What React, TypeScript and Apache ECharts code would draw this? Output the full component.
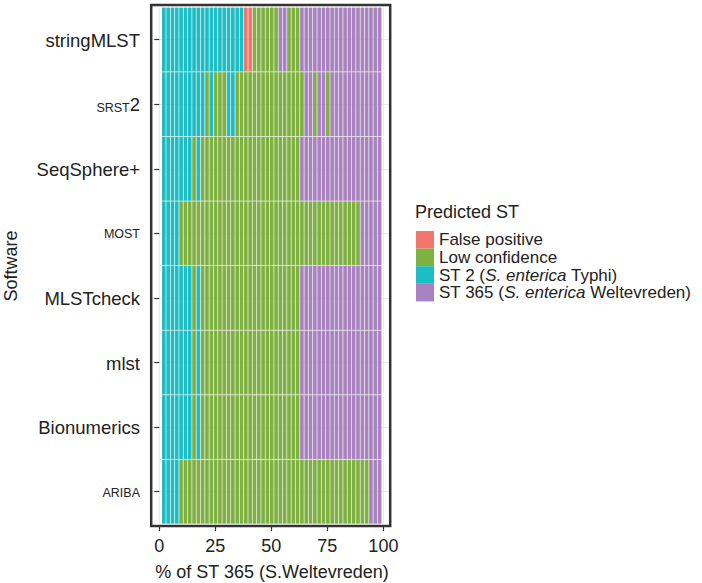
import React, { useEffect, useRef } from "react";
import * as echarts from "echarts";

// Software rows (top to bottom)
const ROWS = ["stringMLST", "SRST2", "SeqSphere+", "MOST", "MLSTcheck", "mlst", "Bionumerics", "ARIBA"];

// Predicted ST categories
const CATEGORIES = [
  "False positive",
  "Low confidence",
  "ST 2 (S. enterica Typhi)",
  "ST 365 (S. enterica Weltevreden)",
];
const CAT_COLORS = ["#F0766E", "#7FB042", "#1DBDC4", "#A883BF"];

// Runs per software: [category index, number of samples]
const FP = 0, LC = 1, T2 = 2, W365 = 3;
const runsStringMLST = [[T2, 19], [FP, 2], [LC, 6], [W365, 2], [LC, 3], [W365, 19]];
const runsSRST2 = [[T2, 10], [LC, 1], [T2, 1], [LC, 3], [T2, 2], [LC, 16], [W365, 2], [LC, 1], [W365, 2], [LC, 1], [W365, 12]];
const runsSeqSphere = [[T2, 7], [LC, 1], [T2, 1], [LC, 23], [W365, 19]];
const runsMOST = [[T2, 4], [LC, 42], [W365, 5]];
const runsMLSTcheck = [[T2, 7], [LC, 1], [T2, 1], [LC, 23], [W365, 19]];
const runsMlst = [[T2, 7], [LC, 1], [T2, 1], [LC, 23], [W365, 19]];
const runsBionumerics = [[T2, 7], [LC, 1], [T2, 1], [LC, 23], [W365, 19]];
const runsARIBA = [[T2, 4], [LC, 44], [W365, 3]];
const ROW_RUNS = [runsStringMLST, runsSRST2, runsSeqSphere, runsMOST, runsMLSTcheck, runsMlst, runsBionumerics, runsARIBA];

// Percent axis
const X_TICKS = [0, 25, 50, 75, 100];
const BAR_START = 1.07; // % where the first sample starts
const N_SAMPLES = 51;
const SAMPLE_PCT = 98.2 / N_SAMPLES; // % width of one sample

const FONT = "'Liberation Sans', Arial, Helvetica, sans-serif";
const TXT = "#222";

export default function App() {
  const ref = useRef<HTMLDivElement>(null);
  useEffect(() => {
    if (!ref.current) return;
    const chart = echarts.init(ref.current, undefined, { renderer: "svg" });

    const sampleCats: number[][] = ROW_RUNS.map((runs) => {
      const arr: number[] = [];
      runs.forEach(([c, n]) => {
        for (let k = 0; k < n; k++) arr.push(c);
      });
      return arr;
    });

    const series: any[] = [];
    series.push({
      type: "bar",
      stack: "all",
      barWidth: "100%",
      silent: true,
      data: ROWS.map(() => BAR_START),
      itemStyle: { color: "rgba(0,0,0,0)" },
    });
    for (let j = 0; j < N_SAMPLES; j++) {
      series.push({
        type: "bar",
        stack: "all",
        barWidth: "100%",
        silent: true,
        data: sampleCats.map((cats) => ({
          value: SAMPLE_PCT,
          itemStyle: { color: CAT_COLORS[cats[j]] },
        })),
        itemStyle: { borderColor: "rgba(255,255,255,0.1)", borderWidth: 0.6 },
      });
    }
    CATEGORIES.forEach((name, i) => {
      series.push({
        type: "line",
        name,
        data: [],
        color: CAT_COLORS[i],
        itemStyle: { color: CAT_COLORS[i] },
        lineStyle: { color: CAT_COLORS[i] },
      });
    });

    const LEG_FS = 17;
    const LEG_LH = 17.6;
    const legendRich = {
      n: { fontSize: LEG_FS, fontFamily: FONT, color: TXT, lineHeight: LEG_LH },
      i: { fontSize: LEG_FS, fontFamily: FONT, color: TXT, fontStyle: "italic", lineHeight: LEG_LH },
    };

    chart.setOption({
      animation: false,
      grid: { left: 151, top: 7.3, width: 240, height: 516.7, containLabel: false },
      xAxis: {
        type: "value",
        min: -3.7,
        max: 103.4,
        offset: 3,
        axisLine: { show: false },
        axisTick: { show: true, length: 4, customValues: X_TICKS, lineStyle: { color: "#333", width: 1.2 } },
        axisLabel: { customValues: X_TICKS, fontSize: 18, color: TXT, fontFamily: FONT, margin: 10 },
        splitLine: { show: true, lineStyle: { color: "#ebebeb", width: 1 } },
        minorSplitLine: { show: false },
      },
      yAxis: {
        type: "category",
        inverse: true,
        data: ROWS,
        axisLine: { show: false },
        axisTick: { show: true, alignWithLabel: true, length: 5, lineStyle: { color: "#333", width: 1.2 } },
        axisLabel: {
          margin: 11,
          formatter: (v: string) => {
            if (v === "SRST2") return "{s|SRST}{b|2}";
            if (v === "MOST" || v === "ARIBA") return "{s|" + v + "}";
            return "{b|" + v + "}";
          },
          rich: {
            b: { fontSize: 18.5, color: TXT, fontFamily: FONT, lineHeight: 20, verticalAlign: "bottom" },
            s: { fontSize: 12.5, color: TXT, fontFamily: FONT, lineHeight: 15, verticalAlign: "bottom" },
          },
        },
        splitLine: { show: true, alignWithLabel: true, lineStyle: { color: "#ebebeb", width: 1 } },
      },
      legend: {
        orient: "vertical",
        left: 411,
        top: 226,
        padding: 5,
        itemWidth: 18,
        itemHeight: LEG_LH,
        itemGap: 0,
        icon: "rect",
        selectedMode: false,
        data: CATEGORIES.map((name) => ({ name })),
        formatter: (name: string) => {
          const key = "S. enterica";
          const idx = name.indexOf(key);
          if (idx < 0) return "{n|" + name + "}";
          return "{n|" + name.slice(0, idx) + "}{i|" + key + "}{n|" + name.slice(idx + key.length) + "}";
        },
        textStyle: { fontSize: LEG_FS, fontFamily: FONT, color: TXT, lineHeight: LEG_LH, rich: legendRich },
      },
      graphic: [
        {
          type: "rect",
          z: 100,
          shape: { x: 151.2, y: 5, width: 239, height: 521 },
          style: { fill: "none", stroke: "#333", lineWidth: 2.5 },
          silent: true,
        },
        {
          type: "text",
          x: 11,
          y: 266,
          rotation: Math.PI / 2,
          style: { text: "Software", fontSize: 18, fontFamily: FONT, fill: TXT, align: "center", verticalAlign: "middle" },
        },
        {
          type: "text",
          x: 272,
          y: 572,
          style: { text: "% of ST 365 (S.Weltevreden)", fontSize: 18, fontFamily: FONT, fill: TXT, align: "center", verticalAlign: "middle" },
        },
        {
          type: "text",
          x: 415,
          y: 212,
          style: { text: "Predicted ST", fontSize: 18, fontFamily: FONT, fill: TXT, align: "left", verticalAlign: "middle" },
        },
      ],
      series,
    });
    return () => chart.dispose();
  }, []);
  return (
    <div
      ref={ref}
      style={{ position: "absolute", left: 0, top: 0, width: 702, height: 583, background: "#fff" }}
    />
  );
}
